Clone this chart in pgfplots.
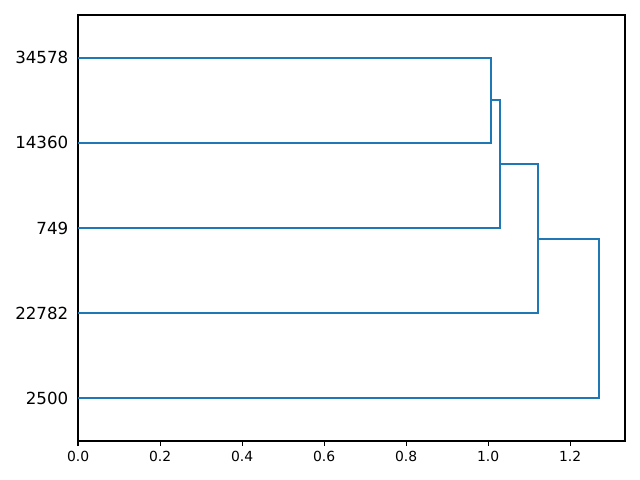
\documentclass[border=0pt]{standalone}
\usepackage{fontspec}
\setmainfont{DejaVu Sans}
\usepackage{pgfplots}
\pgfplotsset{compat=1.18}
\definecolor{mplblue}{HTML}{1F77B4}
\begin{document}
\begin{tikzpicture}
\begin{axis}[name=ax, scale only axis, width=393.8pt, height=306.7pt,
  xmin=0, xmax=1.3338, ymin=0, ymax=50,
  xtick={0,0.2,0.4,0.6,0.8,1.0,1.2},
  xticklabel style={font=\fontsize{10}{12}\selectfont},
  x tick label style={/pgf/number format/fixed, /pgf/number format/fixed zerofill, /pgf/number format/precision=1},
  /pgf/number format/assume math mode=true,
  ytick={5,15,25,35,45},
  yticklabels={2500,22782,749,14360,34578},
  yticklabel style={font=\fontsize{12}{14}\selectfont},
  tick align=outside, major tick length=3.5pt,
  xtick pos=bottom, ytick pos=left,
  ytick style={draw=none},
  every tick/.style={black, line width=0.8pt},
  axis line style={line width=0.8pt},
  scaled x ticks=false,
  clip=false]
\addplot[mplblue, line width=1.5pt] coordinates {(0,45) (1.0066,45) (1.0066,35) (0,35)};
\addplot[mplblue, line width=1.5pt] coordinates {(1.0066,40) (1.0285,40) (1.0285,25) (0,25)};
\addplot[mplblue, line width=1.5pt] coordinates {(1.0285,32.5) (1.1212,32.5) (1.1212,15) (0,15)};
\addplot[mplblue, line width=1.5pt] coordinates {(1.1212,23.75) (1.2703,23.75) (1.2703,5) (0,5)};
\end{axis}
\path ([shift={(-56.2pt,-28.1pt)}]ax.south west) rectangle ([shift={(10.8pt,10.8pt)}]ax.north east);
\end{tikzpicture}
\end{document}
